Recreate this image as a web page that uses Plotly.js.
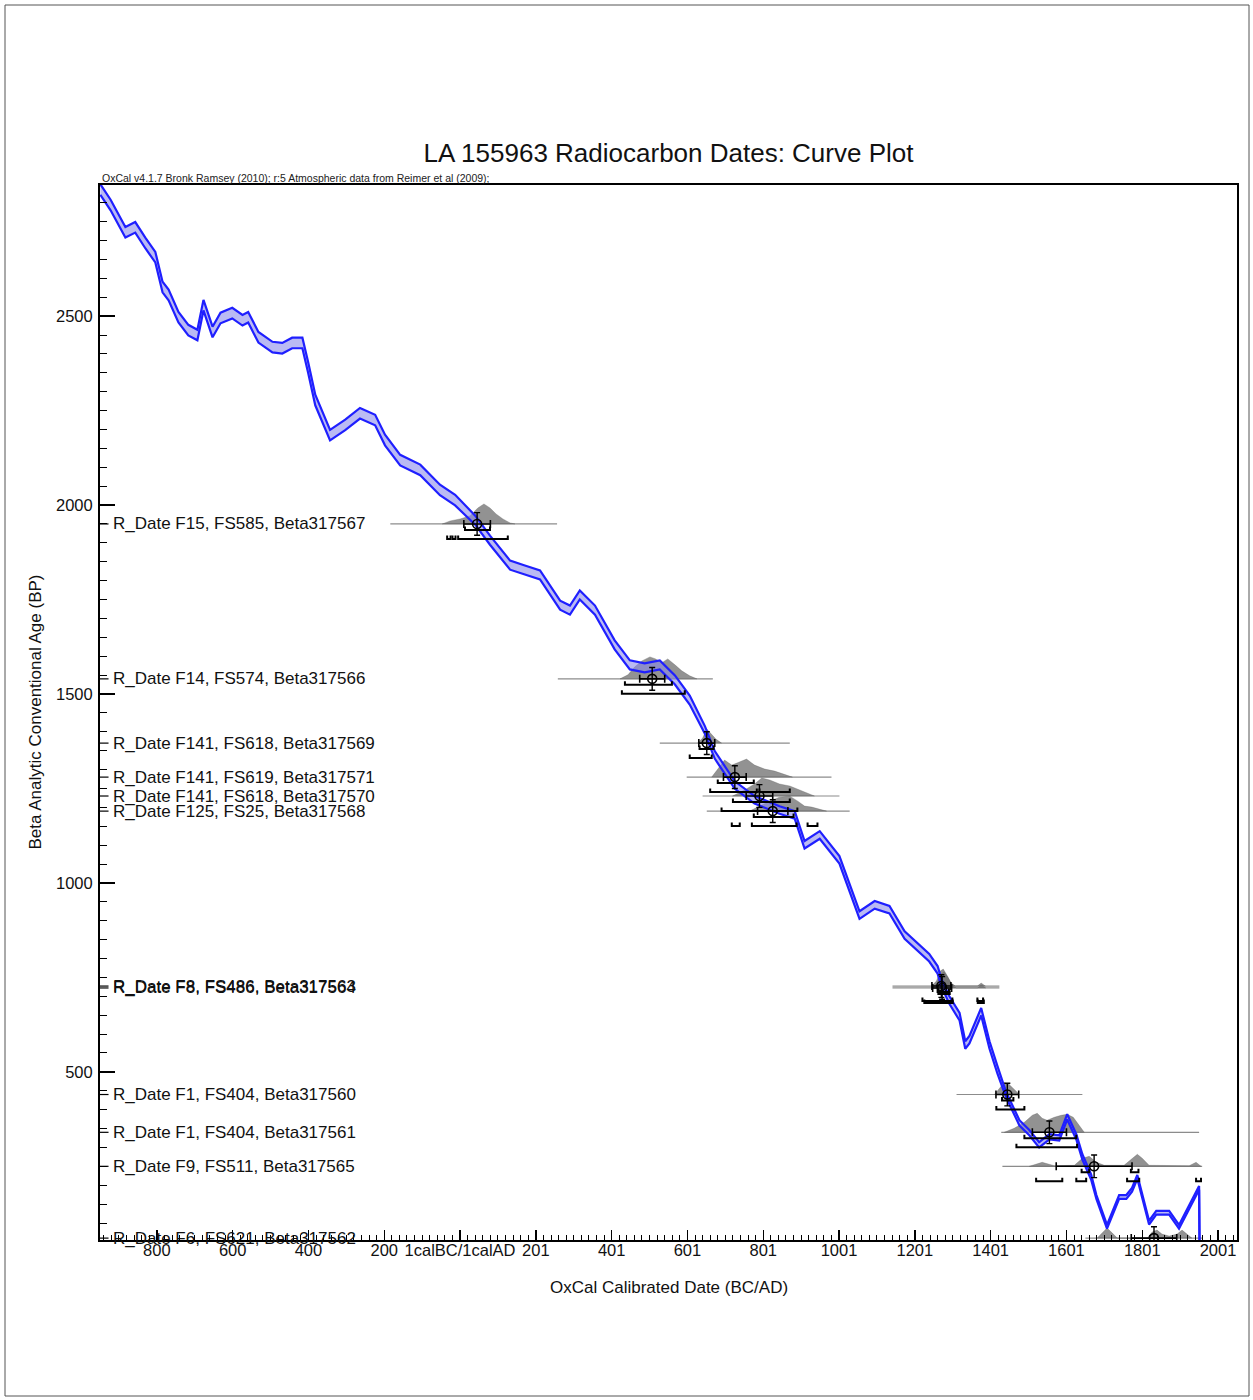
<!DOCTYPE html>
<html>
<head>
<meta charset="utf-8">
<script src="https://cdn.plot.ly/plotly-3.0.1.min.js"></script>
<style>
  html, body { margin: 0; padding: 0; background: #ffffff; }
  #chart { width: 1253px; height: 1400px; }
</style>
</head>
<body>
<div id="chart"></div>
<script>
// Atmospheric calibration curve: calendar year (AD, negative = BC), radiocarbon age BP and 1-sigma
const curveYear = [-949,-922,-883,-857,-830,-804,-785,-769,-743,-717,-693,-677,-653,-632,-601,-574,-559,-532,-495,-469,-443,-416,-401,-382,-343,-303,-264,-224,-198,-158,-105,-53,-13,40,79,132,171,211,264,290,316,356,408,448,487,527,567,606,646,672,725,777,843,883,909,949,1001,1054,1094,1133,1173,1217,1238,1260,1270,1291,1318,1333,1344,1375,1397,1418,1441,1476,1502,1528,1555,1581,1602,1626,1642,1665,1679,1707,1739,1758,1773,1787,1818,1837,1871,1897,1950,1952];
const curveBP = [2835,2794,2722,2735,2693,2656,2577,2556,2497,2463,2450,2529,2458,2495,2508,2489,2497,2444,2418,2415,2429,2429,2365,2278,2185,2212,2243,2225,2172,2119,2093,2040,2013,1960,1907,1841,1828,1815,1735,1722,1762,1722,1630,1577,1569,1577,1537,1484,1405,1339,1259,1220,1193,1180,1101,1127,1061,915,942,929,862,823,802,770,736,690,646,571,585,659,571,505,439,365,339,307,328,325,381,328,275,222,169,90,169,169,188,222,101,127,127,90,193,-60];
const curveSigma = [14,14,14,14,14,14,14,14,14,14,14,14,14,14,14,14,14,14,14,14,14,14,14,14,14,14,14,14,14,14,14,14,14,12,12,12,12,12,12,12,12,12,12,12,12,12,12,12,10,10,10,10,10,10,10,10,10,10,10,10,10,10,10,10,10,10,10,10,10,10,10,10,7,7,7,7,7,7,7,7,7,7,5,5,5,5,5,5,5,5,5,5,5,5];

// Radiocarbon determinations
const dateLabels = [
  "R_Date F15, FS585, Beta317567",
  "R_Date F14, FS574, Beta317566",
  "R_Date F141, FS618, Beta317569",
  "R_Date F141, FS619, Beta317571",
  "R_Date F141, FS618, Beta317570",
  "R_Date F125, FS25, Beta317568",
  "R_Date F8, FS486, Beta317563",
  "R_Date F8, FS486, Beta317564",
  "R_Date F1, FS404, Beta317560",
  "R_Date F1, FS404, Beta317561",
  "R_Date F9, FS511, Beta317565",
  "R_Date F6, FS621, Beta317562"
];
const dateBP  = [1950,1540,1370,1280,1230,1190,727,722,440,340,250,60];
const dateErr = [30,30,30,30,30,30,30,30,30,30,30,30];

// Calibrated summary: mean and standard deviation (cal years)
const calMean = [45,507,651,725,790,825,1270,1272,1444,1555,1673,1831];
const calSd   = [35,33,21,30,35,40,25,25,30,45,100,60];

// Extent of each calibrated distribution
const spanFrom = [-184,258,527,598,640,651,1141,1141,1310,1428,1431,1650];
const spanTo   = [256,667,870,980,1001,1028,1423,1423,1642,1950,1958,1960];

// Calibrated probability (relative) at cal years
const probYears = [
  [-47,-26,0,26,47,63,79,95,113,132,145],
  [422,443,461,480,501,516,532,548,567,585,606,625],
  [627,640,651,661,675,690],
  [664,680,698,717,738,756,777,804,830,856,877],
  [719,751,777,796,817,843,870,896,917,935],
  [764,790,817,843,870,891,909,928,949,967],
  [1244,1257,1267,1275,1286,1296,1307,1365,1375,1386],
  [1246,1259,1269,1277,1288,1298,1309,1365,1376,1387],
  [1410,1423,1436,1449,1462,1476],
  [1436,1462,1489,1510,1523,1536,1549,1568,1586,1602,1618,1634,1647],
  [1502,1536,1568,1621,1642,1660,1679,1700,1752,1773,1787,1800,1818,1924,1942,1955],
  [1681,1697,1707,1721,1734,1813,1826,1839,1852,1871,1892,1905,1918,1931]
];
const probDensity = [
  [0,0.15,0.25,0.4,0.8,1.0,0.8,0.5,0.25,0.05,0],
  [0,0.2,0.6,0.9,1.1,1.0,0.8,1.0,0.7,0.4,0.15,0],
  [0,0.25,0.7,0.5,0.2,0],
  [0,0.4,0.85,0.6,0.75,0.9,0.6,0.4,0.3,0.15,0],
  [0,0.3,0.6,0.9,0.8,0.6,0.5,0.3,0.15,0],
  [0,0.25,0.5,0.7,0.75,0.5,0.25,0.2,0.1,0],
  [0,0.25,0.75,0.85,0.5,0.15,0,0,0.15,0],
  [0,0.25,0.7,0.8,0.5,0.15,0,0,0.15,0],
  [0,0.3,0.6,0.5,0.25,0],
  [0,0.2,0.5,0.85,0.95,0.7,0.6,0.75,0.85,0.9,0.75,0.3,0],
  [0,0.2,0.03,0.05,0.4,0.5,0.2,0.05,0.05,0.4,0.6,0.4,0.05,0.03,0.2,0],
  [0,0.3,0.5,0.25,0,0,0.3,0.4,0.2,0.1,0.2,0.4,0.2,0]
];

// Highest probability ranges, 68.2% and 95.4%
const range68 = [
  [[13,79]],
  [[435,559]],
  [[632,669]],
  [[680,775]],
  [[720,870]],
  [[775,880]],
  [[1260,1290]],
  [[1262,1292]],
  [[1430,1460]],
  [[1489,1626]],
  [[1640,1660],[1770,1790]],
  [[1700,1720],[1820,1840]]
];
const range95 = [
  [[-34,-25],[-20,-12],[-5,126]],
  [[427,593]],
  [[606,664]],
  [[660,783],[790,870]],
  [[690,890]],
  [[717,738],[770,888],[917,943]],
  [[1220,1299],[1365,1380]],
  [[1225,1300],[1366,1382]],
  [[1415,1489]],
  [[1468,1628]],
  [[1520,1589],[1626,1652],[1760,1792],[1942,1955]],
  [[1690,1730],[1810,1930]]
];

// Axis tick labels
const xTickVals = [-800,-600,-400,-200,0,200,400,600,800,1000,1200,1400,1600,1800,2000];
const xTickText = ["800","600","400","200","1calBC/1calAD","201","401","601","801","1001","1201","1401","1601","1801","2001"];
const yTickVals = [500,1000,1500,2000,2500];

// ---- drawing ----
const BLUE = '#1f1fff';
const PX = 1 / 0.378;          // radiocarbon years per screen pixel
const DIST_SCALE = 20 * PX;     // height of unit probability
const traces = [];

// calibrated distributions (grey) with their baselines
for (let i = 0; i < dateBP.length; i++) {
  traces.push({
    x: [spanFrom[i], spanTo[i]], y: [dateBP[i], dateBP[i]],
    mode: 'lines', line: { color: 'rgba(120,120,120,0.85)', width: 1.2 },
    hoverinfo: 'skip', showlegend: false
  });
  const xs = probYears[i].slice();
  const ys = probDensity[i].map(p => dateBP[i] + p * DIST_SCALE);
  xs.push(probYears[i][probYears[i].length - 1], probYears[i][0]);
  ys.push(dateBP[i], dateBP[i]);
  traces.push({
    x: xs, y: ys, mode: 'lines', fill: 'toself',
    fillcolor: 'rgba(110,110,110,0.75)', line: { color: 'rgba(90,90,90,0.6)', width: 0.5 },
    hoverinfo: 'skip', showlegend: false
  });
}

// calibration curve band
const upper = curveBP.map((v, k) => v + curveSigma[k]);
const lower = curveBP.map((v, k) => v - curveSigma[k]);
traces.push({
  x: curveYear.concat(curveYear.slice().reverse()),
  y: upper.concat(lower.slice().reverse()),
  mode: 'lines', fill: 'toself', fillcolor: 'rgba(140,140,235,0.6)',
  line: { width: 0 }, hoverinfo: 'skip', showlegend: false
});
traces.push({ x: curveYear, y: upper, mode: 'lines', line: { color: BLUE, width: 2.2 }, showlegend: false, hoverinfo: 'skip' });
traces.push({ x: curveYear, y: lower, mode: 'lines', line: { color: BLUE, width: 2.2 }, showlegend: false, hoverinfo: 'skip' });

// range brackets below each date
function bracketTrace(ranges, level) {
  const x = [], y = [];
  const cap = 3.5 * PX;
  ranges.forEach(r => {
    x.push(r[0], r[0], r[1], r[1], null);
    y.push(level + cap, level, level, level + cap, null);
  });
  return { x, y, mode: 'lines', line: { color: '#000', width: 2 }, hoverinfo: 'skip', showlegend: false };
}
for (let i = 0; i < dateBP.length; i++) {
  traces.push(bracketTrace(range68[i], dateBP[i] - 6 * PX));
  traces.push(bracketTrace(range95[i], dateBP[i] - 15 * PX));
}

// calibrated mean with spread, and the measurement error
traces.push({
  x: calMean, y: dateBP, mode: 'markers', type: 'scatter',
  marker: { symbol: 'circle-open', size: 9, color: '#000', line: { width: 1.6, color: '#000' } },
  error_x: { type: 'data', array: calSd, visible: true, color: '#000', thickness: 1.6, width: 4 },
  error_y: { type: 'data', array: dateErr, visible: true, color: '#000', thickness: 1.4, width: 3 },
  hoverinfo: 'skip', showlegend: false
});

// sample labels
const annotations = dateLabels.map((t, i) => ({
  x: -922, y: dateBP[i], xref: 'x', yref: 'y', text: t, showarrow: false,
  xanchor: 'left', yanchor: 'middle', font: { size: 17, color: '#111' }
}));
annotations.push({
  x: 0, y: 1, xref: 'paper', yref: 'paper', xanchor: 'left', yanchor: 'bottom', yshift: -1,
  text: 'OxCal v4.1.7 Bronk Ramsey (2010); r:5 Atmospheric data from Reimer et al (2009);',
  showarrow: false, font: { size: 10.5, color: '#222' }
});
annotations.push({
  x: 0.5, y: (1240 - 1287) / 1055, xref: 'paper', yref: 'paper', xanchor: 'center', yanchor: 'middle',
  text: 'OxCal Calibrated Date (BC/AD)', showarrow: false, font: { size: 17, color: '#111' }
});
annotations.push({
  x: (35 - 100) / 1137, y: 0.5, xref: 'paper', yref: 'paper', xanchor: 'center', yanchor: 'middle',
  text: 'Beta Analytic Conventional Age (BP)', textangle: -90, showarrow: false, font: { size: 17, color: '#111' }
});

// date markers on the age axis, and the outer frame
const shapes = dateBP.map(v => ({
  type: 'line', xref: 'paper', yref: 'y', x0: 0, x1: 0.0075, y0: v, y1: v,
  line: { color: '#000', width: 1.2 }
}));
shapes.push({
  type: 'rect', xref: 'paper', yref: 'paper',
  x0: (5 - 100) / 1137, x1: (1249 - 100) / 1137, y0: (1240 - 1396) / 1055, y1: (1240 - 5) / 1055,
  line: { color: '#555', width: 1 }, fillcolor: 'rgba(0,0,0,0)'
});

const layout = {
  width: 1253, height: 1400,
  margin: { l: 100, r: 16, t: 185, b: 160, pad: 0 },
  paper_bgcolor: '#ffffff', plot_bgcolor: '#ffffff',
  showlegend: false,
  font: { family: 'Liberation Sans, Arial, sans-serif', color: '#111', size: 16 },
  title: {
    text: 'LA 155963 Radiocarbon Dates: Curve Plot',
    font: { size: 26, color: '#111' },
    x: 0.5, xref: 'paper', xanchor: 'center',
    y: 1 - 153 / 1400, yref: 'container', yanchor: 'middle'
  },
  xaxis: {
    range: [-950, 2050], tickmode: 'array', tickvals: xTickVals, ticktext: xTickText,
    ticks: 'inside', ticklen: 10, tickwidth: 1.5, tickcolor: '#000',
    minor: { dtick: 20, tick0: 0, ticks: 'inside', ticklen: 5, tickwidth: 1, tickcolor: '#000', showgrid: false },
    showline: true, linecolor: '#000', linewidth: 2, mirror: true,
    showgrid: false, zeroline: false, tickfont: { size: 16.5, color: '#111' }, ticklabelstandoff: -6
  },
  yaxis: {
    range: [55, 2847], tickmode: 'array', tickvals: yTickVals,
    ticks: 'inside', ticklen: 15, tickwidth: 2, tickcolor: '#000',
    minor: { dtick: 50, tick0: 0, ticks: 'inside', ticklen: 7, tickwidth: 1, tickcolor: '#000', showgrid: false },
    showline: true, linecolor: '#000', linewidth: 2, mirror: true,
    showgrid: false, zeroline: false, tickfont: { size: 16.5, color: '#111' }, ticklabelstandoff: 2
  },
  annotations, shapes
};

Plotly.newPlot('chart', traces, layout, { staticPlot: true, displayModeBar: false });
</script>
</body>
</html>
